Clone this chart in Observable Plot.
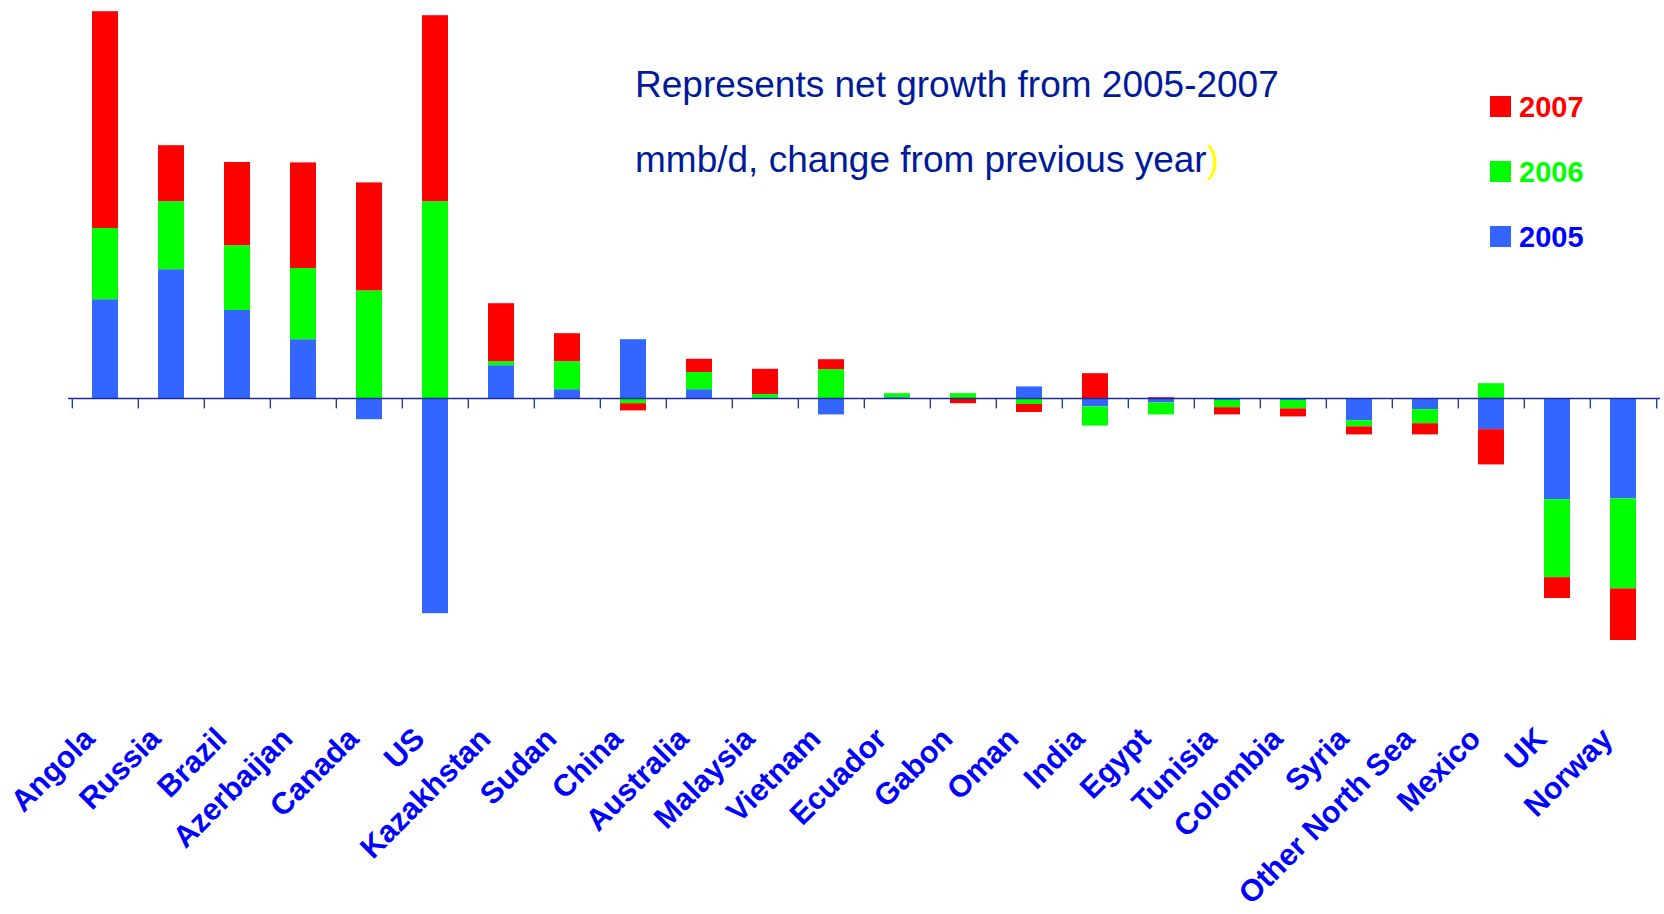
<!DOCTYPE html>
<html>
<head>
<meta charset="utf-8">
<script src="https://cdn.jsdelivr.net/npm/d3@7"></script>
<script src="https://cdn.jsdelivr.net/npm/@observablehq/plot@0.6"></script>
<style>
  html, body { margin: 0; padding: 0; background: #fff; }
  #wrap { position: relative; width: 1664px; height: 914px; font-family: "Liberation Sans", Arial, sans-serif; }
  #wrap svg { position: absolute; left: 0; top: 0; }
  .title { position: absolute; left: 635px; color: #001a99; font-size: 37px; white-space: nowrap; line-height: 1; }
  .legend { position: absolute; left: 1490px; font-size: 29px; font-weight: bold; white-space: nowrap; line-height: 1; }
  .legend span.sw { display: inline-block; width: 21px; height: 21px; margin-right: 8px; }
</style>
</head>
<body>
<div id="wrap"></div>
<script>
// ---- data (change from previous year, thousand barrels/day) ----
const countries = ["Angola","Russia","Brazil","Azerbaijan","Canada","US","Kazakhstan","Sudan","China","Australia","Malaysia","Vietnam","Ecuador","Gabon","Oman","India","Egypt","Tunisia","Colombia","Syria","Other North Sea","Mexico","UK","Norway"];
const v2005 = [247, 322, 220, 147, -53, -538, 82, 22, 147, 22, 1, -41, 2, 0, 29, -21, -11, -5, -5, -56, -28, -78, -253, -251];
const v2006 = [178, 170, 162, 178, 269, 492, 10, 70, -13, 43, 9, 72, 10, 12, -15, -48, -30, -18, -21, -15, -35, 37, -195, -225];
const v2007 = [542, 140, 208, 264, 270, 465, 145, 70, -18, 33, 63, 25, 0, -13, -20, 62, 2, -18, -20, -20, -28, -88, -52, -129];
const years = ["2005", "2006", "2007"];
const yearColors = ["#3366ff", "#00ff00", "#ff0000"];
const legendTextColors = ["#0000ff", "#00ff00", "#ff0000"];
const titleLine1 = "Represents net growth from 2005-2007";
const titleLine2 = "mmb/d, change from previous year";

const series = [v2005, v2006, v2007];
const rows = [];
countries.forEach((c, i) => {
  years.forEach((y, j) => rows.push({country: c, year: y, value: series[j][i]}));
});

const W = 1664, H = 914, mL = 68, mR = 4;
const step = (W - mL - mR) / countries.length;
const font = "'Liberation Sans', Arial, sans-serif";

const chart = Plot.plot({
  width: W,
  height: H,
  marginLeft: mL,
  marginRight: mR,
  marginTop: 0,
  marginBottom: 177,
  x: {domain: countries, paddingInner: 0.6, paddingOuter: 0.3, axis: null},
  y: {domain: [-847.5, 995], axis: null},
  color: {domain: years, range: yearColors},
  style: {fontFamily: font, background: "white"},
  marks: [
    Plot.barY(rows, {x: "country", y: "value", fill: "year", order: null}),
    Plot.ruleY([0], {stroke: "#1a2a99", strokeWidth: 1.6}),
    Plot.ruleX(countries, {x: d => d, dx: -step / 2, y1: 0, y2: -26, stroke: "#2a3aa0", strokeWidth: 1.4}),
    Plot.ruleX(countries.slice(-1), {x: d => d, dx: step / 2, y1: 0, y2: -26, stroke: "#2a3aa0", strokeWidth: 1.4}),
    Plot.text(countries, {x: d => d, frameAnchor: "bottom", rotate: -45, textAnchor: "end",
      dx: -9, dy: 3,
      fontSize: 30.5, fontWeight: "bold", fill: "#0000ff", fontFamily: font})
  ]
});

const wrap = document.getElementById("wrap");
wrap.appendChild(chart);

// title lines (overlay)
const t1 = document.createElement("div");
t1.className = "title"; t1.style.top = "66px"; t1.textContent = titleLine1;
const t2 = document.createElement("div");
t2.className = "title"; t2.style.top = "141px";
t2.innerHTML = titleLine2 + '<span style="color:#ffff00">)</span>';
wrap.appendChild(t1); wrap.appendChild(t2);

// legend (2007 on top)
const legendTops = [222.5, 157.5, 92.5];
years.forEach((y, j) => {
  const d = document.createElement("div");
  d.className = "legend";
  d.style.top = legendTops[j] + "px";
  d.style.color = legendTextColors[j];
  d.innerHTML = '<span class="sw" style="background:' + yearColors[j] + '"></span>' + y;
  wrap.appendChild(d);
});
</script>
</body>
</html>
